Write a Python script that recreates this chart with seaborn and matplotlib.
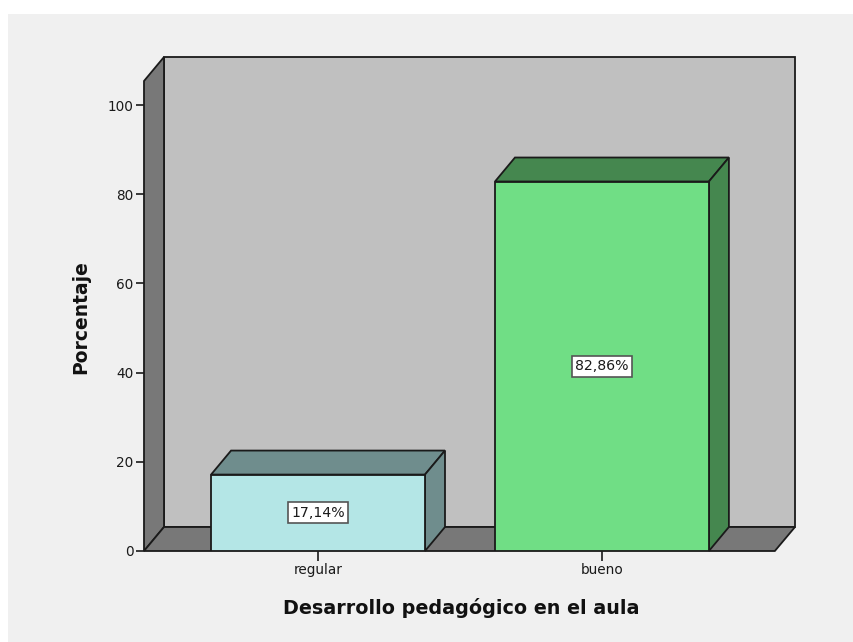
import matplotlib
matplotlib.use("Agg")
import matplotlib.pyplot as plt
from matplotlib.patches import Polygon, Rectangle
import pandas as pd
import seaborn as sns

categories = ["regular", "bueno"]
percentages = [17.14, 82.86]
value_labels = ["17,14%", "82,86%"]
front_colors = ["#b4e6e6", "#70de85"]
depth_colors = ["#6f8d8d", "#45874f"]
y_ticks = [0, 20, 40, 60, 80, 100]

# size of the fake 3d depth, in data units
depth_x = 20 / 284
depth_y = 24 / 4.46
x_min, x_front, x_max = -0.613, 1.609, 1.68
y_front = 105.4
y_max = y_front + depth_y
line = "#1a1a1a"

sns.set_theme(style="white")
plt.rcParams["font.family"] = ["DejaVu Sans"]

fig = plt.figure(figsize=(8.54, 6.42), dpi=100, facecolor="white")
fig.add_artist(Rectangle((8 / 854, 0), 846 / 854, 628 / 642, transform=fig.transFigure,
                         facecolor="#f0f0f0", edgecolor="none", zorder=-1))
ax = fig.add_axes([144 / 854, 91 / 642, 651 / 854, 494 / 642])
ax.patch.set_alpha(0)

data = pd.DataFrame({"cat": categories, "pct": percentages})
sns.barplot(data=data, x="cat", y="pct", hue="cat", palette=front_colors, width=0.7535,
            saturation=1, legend=False, edgecolor=line, linewidth=1.3, zorder=5, ax=ax)

ax.set_xlim(x_min, x_max)
ax.set_ylim(0, y_max)


def face(points, color, z):
    ax.add_patch(Polygon(points, closed=True, facecolor=color, edgecolor=line,
                         linewidth=1.3, zorder=z, clip_on=False))


# walls and floor
face([(x_min + depth_x, depth_y), (x_max, depth_y), (x_max, y_max), (x_min + depth_x, y_max)], "#c0c0c0", 1)
face([(x_min, 0), (x_min + depth_x, depth_y), (x_min + depth_x, y_max), (x_min, y_front)], "#787878", 2)
face([(x_min, 0), (x_front, 0), (x_max, depth_y), (x_min + depth_x, depth_y)], "#787878", 2)

# top and side of each bar, then the value box
for bar, pct, label, col in zip(list(ax.patches[:2]), percentages, value_labels, depth_colors):
    x0 = bar.get_x()
    x1 = x0 + bar.get_width()
    face([(x0, pct), (x1, pct), (x1 + depth_x, pct + depth_y), (x0 + depth_x, pct + depth_y)], col, 4)
    face([(x1, 0), (x1 + depth_x, depth_y), (x1 + depth_x, pct + depth_y), (x1, pct)], col, 4)
    ax.text((x0 + x1) / 2, pct / 2, label, ha="center", va="center", fontsize=10.2, color="#1a1a1a", zorder=6,
            bbox=dict(boxstyle="square,pad=0.25", facecolor="white", edgecolor="#555555", linewidth=1.2))

for side in ["top", "right", "left", "bottom"]:
    ax.spines[side].set_visible(False)

ax.set_yticks(y_ticks)
ax.tick_params(axis="y", left=True, length=6, width=1.2, color=line, labelsize=9.8, pad=1.5, labelcolor="#1a1a1a")
ax.tick_params(axis="x", bottom=True, length=7, width=1.2, color=line, labelsize=9.8, pad=1.5, labelcolor="#1a1a1a")

ax.set_xlabel("")
ax.set_ylabel("")
fig.text(461 / 854, 1 - 608 / 642, "Desarrollo pedagógico en el aula", ha="center", va="center",
         fontsize=13.8, fontweight="bold", color="#111111")
fig.text(81 / 854, 1 - 317 / 642, "Porcentaje", rotation=90, ha="center", va="center",
         fontsize=13.5, fontweight="bold", color="#111111")

fig.savefig("out.png", dpi=100)
